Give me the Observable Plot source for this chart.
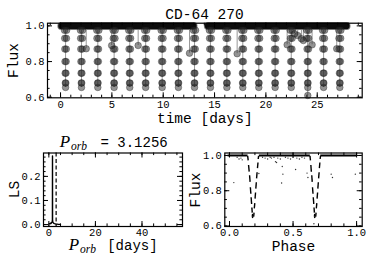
<!DOCTYPE html>
<html><head><meta charset="utf-8">
<script src="https://cdn.jsdelivr.net/npm/d3@7"></script>
<script src="https://cdn.jsdelivr.net/npm/@observablehq/plot@0.6"></script>
<style>
body{margin:0;background:#fff;}
#c{position:relative;width:374px;height:267px;overflow:hidden;background:#fff;}
#c svg{position:absolute;overflow:visible;}
</style></head><body><div id="c"></div>
<script>
// ---------- data ----------
const title = "CD-64 270";
const porb = 3.1256;
const porbText = "= 3.1256";

// light curve: eclipse mid-times (days)
const eclipseTimes = [0.49, 2.04, 3.63, 5.22, 6.74, 8.29, 9.90, 11.48, 13.05, 14.60, 16.20, 17.75, 19.31, 20.90, 22.47, 24.08, 25.62, 27.20];
// in-eclipse samples: offset from mid-time (days) and flux
const profileDt   = [-0.10, -0.085, -0.07, -0.055, -0.04, -0.025, 0, 0.025, 0.04, 0.055, 0.07, 0.085, 0.10];
const profileFlux = [0.975, 0.93, 0.87, 0.80, 0.735, 0.68, 0.655, 0.68, 0.735, 0.80, 0.87, 0.93, 0.975];
// out-of-eclipse baseline (flux 1) spans
const bandSegments = [[0.13, 13.0], [14.4, 27.9]];
// isolated low points [time, flux]
const outliers = [[2.5, 0.872], [4.98, 0.89], [7.56, 0.89], [12.56, 0.847], [17.2, 0.844], [22.07, 0.894],
  [22.8, 0.956], [23.1, 0.946], [23.46, 0.928], [23.65, 0.918], [24.08, 0.61], [24.5, 0.894], [26.9, 0.872]];

// Lomb-Scargle periodogram [period, power]
const lsPeriod = [0.3, 0.5, 0.7, 0.9, 1.1, 1.3, 1.45, 1.53, 1.5628, 1.59, 1.7, 2.0, 2.4, 2.8, 3.2, 3.6, 4.0, 4.5, 5.0];
const lsPower  = [0.004, 0.003, 0.006, 0.004, 0.008, 0.010, 0.012, 0.020, 0.285, 0.020, 0.010, 0.006, 0.004, 0.003, 0.002, 0.002, 0.001, 0.001, 0.001];

// phase-folded curve
const phaseFlat = [[-0.015, 0.142], [0.231, 0.632], [0.714, 1.0]];
const primaryDashes = [
  [0.143,0.998,0.147,0.972],[0.150,0.946,0.155,0.908],[0.158,0.888,0.162,0.850],
  [0.164,0.820,0.168,0.783],[0.170,0.763,0.174,0.725],[0.176,0.705,0.179,0.676],
  [0.182,0.668,0.179,0.655],[0.179,0.655,0.183,0.645],
  [0.190,0.652,0.193,0.676],[0.195,0.700,0.199,0.730],[0.201,0.755,0.205,0.790],
  [0.207,0.812,0.211,0.848],[0.213,0.870,0.217,0.905],[0.220,0.928,0.224,0.960],[0.226,0.980,0.229,0.998]];
const secondaryDashes = [
  [0.633,0.998,0.637,0.972],[0.640,0.946,0.644,0.908],[0.647,0.888,0.651,0.850],
  [0.653,0.820,0.657,0.783],[0.659,0.763,0.663,0.725],[0.665,0.705,0.668,0.676],
  [0.671,0.668,0.668,0.655],[0.668,0.655,0.672,0.645],
  [0.678,0.652,0.681,0.676],[0.683,0.700,0.687,0.730],[0.689,0.755,0.693,0.790],
  [0.695,0.812,0.699,0.848],[0.701,0.870,0.705,0.905],[0.707,0.928,0.711,0.960],[0.713,0.980,0.716,0.998]];
const phaseScatter = [[0.034,0.846],[0.06,0.99],[0.075,0.98],[0.09,0.985],[0.10,0.975],[0.231,0.898],
  [0.26,0.99],[0.28,0.985],[0.30,0.98],[0.32,0.99],[0.33,0.985],[0.35,0.99],[0.362,0.965],[0.37,0.96],
  [0.38,0.985],[0.40,0.98],[0.41,0.844],[0.415,0.937],[0.42,0.894],[0.44,0.99],[0.46,0.985],[0.48,0.98],
  [0.50,0.99],[0.52,0.92],[0.53,0.985],[0.55,0.98],[0.57,0.99],[0.59,0.985],[0.61,0.90],[0.617,0.875],
  [0.664,0.613],[0.80,0.894],[0.81,0.875],[0.99,0.894]];

// tick labels
const topXTicks = [0, 5, 10, 15, 20, 25];
const fluxTicks = [0.6, 0.8, 1.0];
const lsXTicks = [0, 20, 40];
const lsYTicks = [0, 0.1, 0.2];
const phaseXTicks = [0, 0.5, 1.0];

// ---------- helpers ----------
const MONO = "'Liberation Mono', 'DejaVu Sans Mono', monospace";
const SERIF = "'Liberation Serif', 'DejaVu Serif', serif";
const f1 = d => d.toFixed(1);
const range = (a, b, s) => d3.range(Math.round(a / s), Math.round(b / s) + 1).map(i => +(i * s).toFixed(6));

function frameTicks(L, xDom, yDom, xMaj, xMinStep, yMaj, yMinStep) {
  const iw = L.width - L.ml - L.mr, ih = L.height - L.mt - L.mb;
  const inX = v => v > xDom[0] && v < xDom[1];
  const inY = v => v > yDom[0] && v < yDom[1];
  const xMin = range(Math.ceil(xDom[0] / xMinStep) * xMinStep, xDom[1], xMinStep).filter(inX);
  const yMin = range(Math.ceil(yDom[0] / yMinStep) * yMinStep, yDom[1], yMinStep).filter(inY);
  const M = 5, m = 2.6, st = {stroke: "#000", strokeWidth: 1};
  return [
    Plot.tickX(xMaj.filter(inX), {x: d => d, insetTop: ih - M, ...st}),
    Plot.tickX(xMaj.filter(inX), {x: d => d, insetBottom: ih - M, ...st}),
    Plot.tickX(xMin, {x: d => d, insetTop: ih - m, ...st}),
    Plot.tickX(xMin, {x: d => d, insetBottom: ih - m, ...st}),
    Plot.tickY(yMaj.filter(inY), {y: d => d, insetRight: iw - M, ...st}),
    Plot.tickY(yMaj.filter(inY), {y: d => d, insetLeft: iw - M, ...st}),
    Plot.tickY(yMin, {y: d => d, insetRight: iw - m, ...st}),
    Plot.tickY(yMin, {y: d => d, insetLeft: iw - m, ...st})
  ];
}
// text placed at a position inside the SVG: baseline (or centre if rotated)
function txt(L, s, x, y, o = {}) {
  return Plot.text([s], {frameAnchor: "top-left", text: d => d, dx: x - L.ml, dy: y - L.mt,
    lineAnchor: o.rotate ? "middle" : "bottom", textAnchor: "middle", fill: "#000",
    fontFamily: MONO, fontSize: 14.5, ...o});
}
function mk(L, opts) {
  const svg = Plot.plot({
    width: L.width, height: L.height,
    marginLeft: L.ml, marginRight: L.mr, marginTop: L.mt, marginBottom: L.mb,
    style: {fontFamily: MONO, fontSize: "10.5px", background: "transparent", color: "#000"},
    ...opts
  });
  svg.style.left = L.x + "px";
  svg.style.top = L.y + "px";
  document.getElementById("c").appendChild(svg);
}

// ---------- top: light curve ----------
{
  const L = {x: 0, y: 0, width: 374, height: 130, ml: 47, mr: 12.3, mt: 22.7, mb: 32.7};
  const xDom = [-1.27, 29.38], yDom = [0.597, 1.015];
  const eclipsePts = eclipseTimes.flatMap(t => profileDt.map((dt, i) => ({t: t + dt, f: profileFlux[i]})));
  const dotStyle = {r: 3.3, fill: "#2a2a2a", fillOpacity: 0.5, stroke: "#1a1a1a", strokeOpacity: 0.45, strokeWidth: 0.8};
  mk(L, {
    x: {domain: xDom}, y: {domain: yDom},
    marks: [
      Plot.ruleX(eclipseTimes, {x: d => d, y1: 0.655, y2: 1, stroke: "#999", strokeWidth: 1}),
      Plot.ruleX(outliers, {x: d => d[0], y1: d => d[1], y2: 1, stroke: "#999", strokeWidth: 1}),
      Plot.ruleY(bandSegments, {y: 1, x1: d => d[0], x2: d => d[1], stroke: "#777", strokeWidth: 8, strokeLinecap: "round"}),
      Plot.ruleY(bandSegments, {y: 1, x1: d => d[0], x2: d => d[1], stroke: "#0c0c0c", strokeWidth: 6.2, strokeLinecap: "round"}),
      Plot.dot(eclipsePts, {x: "t", y: "f", ...dotStyle}),
      Plot.dot(outliers, {x: d => d[0], y: d => d[1], ...dotStyle}),
      ...frameTicks(L, xDom, yDom, topXTicks, 1, fluxTicks, 0.05),
      Plot.frame({stroke: "#000", strokeWidth: 1.2}),
      Plot.axisX({ticks: topXTicks, tickSize: 0, tickPadding: 2.5, tickFormat: d => String(d), label: null, fontSize: 10.5}),
      Plot.axisY({ticks: fluxTicks, tickSize: 0, tickPadding: 3, tickFormat: f1, label: null, fontSize: 10.5}),
      txt(L, title, 204, 18.3),
      txt(L, "time [days]", 204.3, 122.7),
      txt(L, "Flux", 13, 60, {rotate: -90})
    ]
  });
}

// ---------- bottom left: periodogram ----------
{
  const L = {x: 0, y: 130, width: 185, height: 137, ml: 43, mr: 3, mt: 22.5, mb: 41};
  const xDom = [-2.3, 57.4], yDom = [-0.008, 0.297];
  const ls = lsPeriod.map((p, i) => ({p, w: lsPower[i]}));
  mk(L, {
    x: {domain: xDom}, y: {domain: yDom},
    marks: [
      Plot.line(ls, {x: "p", y: "w", stroke: "#000", strokeWidth: 1.4}),
      Plot.ruleX([porb], {x: d => d, stroke: "#000", strokeWidth: 1.2, strokeDasharray: "4,2.5"}),
      ...frameTicks(L, xDom, yDom, lsXTicks, 5, lsYTicks, 0.02),
      Plot.frame({stroke: "#000", strokeWidth: 1.2}),
      Plot.axisX({ticks: lsXTicks, tickSize: 0, tickPadding: 2, tickFormat: d => String(d), label: null, fontSize: 10.5}),
      Plot.axisY({ticks: lsYTicks, tickSize: 0, tickPadding: 3, tickFormat: f1, label: null, fontSize: 10.5}),
      txt(L, "P", 59.3, 16, {fontFamily: SERIF, fontStyle: "italic", fontSize: 17, textAnchor: "start"}),
      txt(L, "orb", 70.5, 19, {fontFamily: SERIF, fontStyle: "italic", fontSize: 11.5, textAnchor: "start"}),
      txt(L, porbText, 100, 16, {fontSize: 14, textAnchor: "start"}),
      txt(L, "P", 68.3, 119, {fontFamily: SERIF, fontStyle: "italic", fontSize: 17, textAnchor: "start"}),
      txt(L, "orb", 79.5, 122.5, {fontFamily: SERIF, fontStyle: "italic", fontSize: 11.5, textAnchor: "start"}),
      txt(L, "[days]", 106.7, 119, {fontSize: 14, textAnchor: "start"}),
      txt(L, "LS", 14, 59, {rotate: -90})
    ]
  });
}

// ---------- bottom right: phase-folded ----------
{
  const L = {x: 185, y: 130, width: 189, height: 137, ml: 39.3, mr: 12.3, mt: 22.5, mb: 41};
  const xDom = [-0.037, 1.044], yDom = [0.597, 1.014];
  const dashes = primaryDashes.concat(secondaryDashes);
  mk(L, {
    x: {domain: xDom}, y: {domain: yDom},
    marks: [
      Plot.link(phaseFlat, {x1: d => d[0], x2: d => d[1], y1: 1, y2: 1, stroke: "#000", strokeWidth: 2}),
      Plot.link(dashes, {x1: d => d[0], y1: d => d[1], x2: d => d[2], y2: d => d[3], stroke: "#000", strokeWidth: 1.4}),
      Plot.dot(phaseScatter, {x: d => d[0], y: d => d[1], r: 0.7, fill: "#333", stroke: "none"}),
      ...frameTicks(L, xDom, yDom, phaseXTicks, 0.1, fluxTicks, 0.05),
      Plot.frame({stroke: "#000", strokeWidth: 1.2}),
      Plot.axisX({ticks: phaseXTicks, tickSize: 0, tickPadding: 2.5, tickFormat: f1, label: null, fontSize: 10.5}),
      Plot.axisY({ticks: fluxTicks, tickSize: 0, tickPadding: 3, tickFormat: f1, label: null, fontSize: 10.5}),
      txt(L, "Phase", 108, 120),
      txt(L, "Flux", 9.7, 59.5, {rotate: -90})
    ]
  });
}
</script></body></html>
